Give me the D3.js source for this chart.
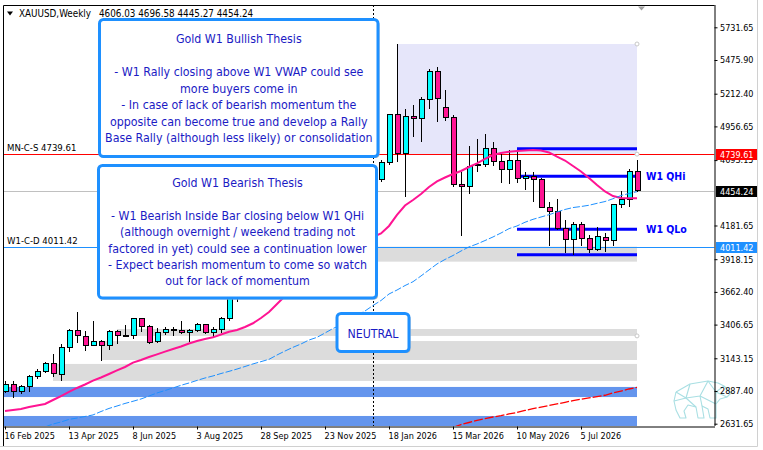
<!DOCTYPE html>
<html lang="en">
<head>
<meta charset="UTF-8">
<title>XAUUSD,Weekly</title>
<style>
    body {
        margin: 0;
        padding: 0;
        background-color: #fff;
    }
    svg {
        display: block;
        font-family: "DejaVu Sans Condensed", "DejaVu Sans", sans-serif;
    }
</style>
</head>
<body>
<svg id="chart" width="763" height="450"></svg>

<script src="https://d3js.org/d3.v7.min.js"></script>
<script>
    // weekly bars, index 0 = 16 Feb 2025
    const open  = [2887, 2942, 2880, 2919, 2997, 3036, 3099, 3020, 3231, 3357,
                   3310, 3247, 3278, 3247, 3349, 3318, 3325, 3458, 3388, 3271,
                   3341, 3372, 3357, 3341, 3357, 3404, 3341, 3372, 3458, 3630,
                   3650, 3685, 3760, 3887, 4018, 4252, 4113, 4002, 4000, 4085,
                   4065, 4218, 4198, 4300, 4340, 4532, 4330, 4543, 4676, 5046,
                   4746, 5036, 5020, 5169, 5388, 5106, 5028, 4504, 4488, 4652,
                   4660, 4785, 4681, 4621, 4688, 4551, 4563, 4538, 4321, 4295,
                   4160, 4074, 4191, 4082, 3996, 4089, 4063, 4347, 4387, 4606.03];
    const high  = [2966, 2966, 2934, 3013, 3059, 3114, 3177, 3255, 3372, 3505,
                   3357, 3435, 3286, 3364, 3364, 3404, 3462, 3462, 3404, 3380,
                   3388, 3388, 3435, 3372, 3419, 3411, 3388, 3466, 3645, 3675,
                   3707, 3791, 3897, 4059, 4380, 4381, 4150, 4030, 4245, 4132,
                   4220, 4264, 4353, 4375, 4550, 4550, 4505, 4694, 5050, 5601,
                   5093, 5124, 5189, 5403, 5424, 5241, 5046, 4602, 4803, 4858,
                   4897, 4832, 4739, 4772, 4772, 4598, 4598, 4556, 4363, 4387,
                   4225, 4207, 4207, 4107, 4168, 4121, 4350, 4451, 4624, 4696.58];
    const low   = [2872, 2833, 2864, 2880, 2981, 3028, 2997, 2966, 3192, 3263,
                   3200, 3245, 3122, 3208, 3255, 3310, 3294, 3349, 3255, 3263,
                   3325, 3318, 3333, 3271, 3349, 3333, 3310, 3341, 3435, 3583,
                   3627, 3630, 3750, 3882, 3945, 4004, 3886, 3930, 3996, 4022,
                   4040, 4170, 4165, 4270, 4335, 4275, 4310, 4524, 4655, 4681,
                   4405, 4876, 4837, 5093, 4993, 5001, 4480, 4102, 4426, 4602,
                   4642, 4647, 4512, 4504, 4512, 4459, 4368, 4316, 4021, 4146,
                   3964, 3951, 4021, 3964, 3985, 3973, 4021, 4316, 4324, 4445.27];
    const close = [2942, 2880, 2919, 2997, 3036, 3099, 3028, 3231, 3357, 3318,
                   3247, 3278, 3247, 3349, 3318, 3321, 3458, 3388, 3263, 3341,
                   3372, 3357, 3341, 3357, 3404, 3341, 3372, 3458, 3630, 3650,
                   3685, 3760, 3887, 4018, 4252, 4113, 4002, 4000, 4085, 4065,
                   4218, 4198, 4300, 4340, 4532, 4330, 4543, 4676, 5046, 4746,
                   5036, 5020, 5169, 5388, 5176, 5028, 4504, 4488, 4642, 4660,
                   4785, 4681, 4621, 4688, 4551, 4563, 4538, 4321, 4295, 4160,
                   4074, 4191, 4082, 3996, 4094, 4063, 4347, 4387, 4606.03, 4454.24];

    // pink moving average
    const maPink = [2731, 2739, 2747, 2762, 2774, 2786, 2817, 2848, 2880, 2911,
                    2938, 2968, 2993, 3020, 3048, 3075, 3109, 3130, 3153, 3174,
                    3195, 3216, 3235, 3259, 3278, 3294, 3307, 3329, 3350, 3364,
                    3388, 3417, 3458, 3505, 3568, 3630, 3685, 3740, 3787, 3834,
                    3881, 3920, 3959, 3998, 4037, 4068, 4092, 4119, 4178, 4264,
                    4338, 4381, 4428, 4483, 4526, 4557, 4584, 4608, 4639, 4668,
                    4702, 4733, 4749, 4758, 4764, 4768, 4772, 4768, 4753, 4720,
                    4690, 4647, 4604, 4553, 4498, 4448, 4412, 4397, 4394, 4394];

    // blue dashed VWAP (from bar 5) and red dashed VWAP (from bar 56)
    const vwapBlueStart = 5;
    const vwapBlue = [2606, 2629, 2645, 2665, 2676, 2688, 2700, 2727, 2751, 2770,
                      2790, 2807, 2825, 2848, 2872, 2891, 2911, 2932, 2950, 2970,
                      2989, 3005, 3024, 3041, 3059, 3079, 3099, 3117, 3135, 3169,
                      3200, 3229, 3255, 3286, 3307, 3341, 3376, 3404, 3443, 3478,
                      3513, 3556, 3595, 3646, 3677, 3712, 3742, 3787, 3834, 3881,
                      3916, 3947, 3982, 4014, 4037, 4064, 4092, 4123, 4157, 4178,
                      4207, 4230, 4248, 4266, 4287, 4307, 4322, 4330, 4340, 4355,
                      4369, 4391, 4416, 4432, 4446];
    const vwapRedStart = 56;
    const vwapRed = [2602, 2625, 2641, 2657, 2672, 2684, 2694, 2708, 2719, 2735,
                     2749, 2762, 2774, 2786, 2799, 2812, 2823, 2833, 2844, 2854,
                     2872, 2887, 2903, 2916];

    // time and price scale labels (the 4437.40 label sits under the bid tag)
    const dateTicks = [0, 8, 16, 24, 32, 40, 48, 56, 64, 72];
    const dateLabels = ["16 Feb 2025", "13 Apr 2025", "8 Jun 2025", "3 Aug 2025", "28 Sep 2025",
                        "23 Nov 2025", "18 Jan 2026", "15 Mar 2026", "10 May 2026", "5 Jul 2026"];
    const priceTicks = [5731.65, 5475.90, 5212.40, 4956.65, 4693.15, 4181.65,
                        3918.15, 3662.40, 3406.65, 3143.15, 2887.40, 2631.65];

    // rectangles: start bar, top, bottom (all end on the last bar)
    const zoneStart  = [49, 36, 14, 12, 6, -2, -2];
    const zoneTop    = [5601, 4016, 3372, 3278, 3099, 2919, 2692];
    const zoneBottom = [4739.61, 3899, 3318, 3130, 2966, 2840, 2500];
    const zoneKind   = ["range", "gray", "gray", "gray", "gray", "blue", "blue"];

    // horizontal levels over the whole chart
    const levelPrice = [4739.61, 4454.24, 4011.42];
    const levelName  = ["MN-C-S 4739.61", "", "W1-C-D 4011.42"];
    // quarter levels from bar 64
    const qStart = 64;
    const qPrice = [4781, 4566, 4152, 3952];
    const qName  = ["", "W1 QHi", "W1 QLo", ""];
    const separatorBar = 46;

    const bullLines = ["Gold W1 Bullish Thesis", "",
                       "- W1 Rally closing above W1 VWAP could see",
                       "more buyers come in",
                       "- In case of lack of bearish momentum the",
                       "opposite can become true and develop a Rally",
                       "Base Rally (although less likely) or consolidation"];
    const bearLines = ["Gold W1 Bearish Thesis", "",
                       "- W1 Bearish Inside Bar closing below W1 QHi",
                       "(although overnight / weekend trading not",
                       "factored in yet) could see a continuation lower",
                       "- Expect bearish momentum to come so watch",
                       "out for lack of momentum"];

    const last = close.length - 1;
    const pl = 3, pr = 714.5, pt = 5, pb = 426;

    const svg = d3.select("#chart");

    // bar index -> x, 8 px per bar, bar 0 at x=5
    const x = d3.scaleLinear()
        .domain([(pl - 5) / 8, (pr - 5) / 8])
        .range([pl, pr]);
    const y = d3.scaleLinear()
        .domain([2613.6, 5906.05])
        .range([pb, pt]);

    svg.append("rect").attr("width", 763).attr("height", 450).attr("fill", "#fff");

    svg.append("clipPath").attr("id", "plot")
        .append("rect")
        .attr("x", pl).attr("y", pt)
        .attr("width", pr - pl).attr("height", pb - pt);

    const g = svg.append("g").attr("clip-path", "url(#plot)");

    // zones
    const zoneFill = { range: "#e6e6fa", gray: "#dcdcdc", blue: "#6495ed" };
    g.selectAll(".zone")
        .data(zoneStart)
        .join("rect")
        .attr("class", "zone")
        .attr("x", (d) => x(d))
        .attr("width", (d) => x(last) - x(d))
        .attr("y", (d, i) => y(zoneTop[i]))
        .attr("height", (d, i) => y(zoneBottom[i]) - y(zoneTop[i]))
        .attr("fill", (d, i) => zoneFill[zoneKind[i]]);

    // horizontal levels
    const levelColor = ["#ff0000", "#c0c0c0", "#1e90ff"];
    g.selectAll(".level")
        .data(levelPrice)
        .join("line")
        .attr("x1", pl).attr("x2", pr)
        .attr("y1", (d) => Math.round(y(d)) + 0.5)
        .attr("y2", (d) => Math.round(y(d)) + 0.5)
        .attr("stroke", (d, i) => levelColor[i])
        .attr("stroke-width", 1);

    // quarter levels
    g.selectAll(".qlevel")
        .data(qPrice)
        .join("line")
        .attr("x1", x(qStart)).attr("x2", x(last))
        .attr("y1", (d) => y(d)).attr("y2", (d) => y(d))
        .attr("stroke", "#0000ff")
        .attr("stroke-width", 3);

    // period separator
    g.append("line")
        .attr("x1", x(separatorBar) + 0.5).attr("x2", x(separatorBar) + 0.5)
        .attr("y1", pt).attr("y2", pb)
        .attr("stroke", "#000")
        .attr("stroke-dasharray", "2,2");

    // candles
    const bars = d3.range(close.length);
    const candle = g.append("g").attr("shape-rendering", "crispEdges");
    candle.selectAll(".wick")
        .data(bars)
        .join("line")
        .attr("x1", (i) => x(i) + 0.5).attr("x2", (i) => x(i) + 0.5)
        .attr("y1", (i) => y(high[i])).attr("y2", (i) => y(low[i]))
        .attr("stroke", "#000");
    candle.selectAll(".body")
        .data(bars)
        .join("rect")
        .attr("x", (i) => x(i) - 2)
        .attr("width", 5)
        .attr("y", (i) => y(Math.max(open[i], close[i])))
        .attr("height", (i) => Math.max(1, Math.abs(y(open[i]) - y(close[i]))))
        .attr("fill", (i) => close[i] >= open[i] ? "#00ffff" : "#ff1493")
        .attr("stroke", "#000");

    // averages
    const line = d3.line().x((d) => x(d[0])).y((d) => y(d[1]));
    g.append("path")
        .attr("d", line(maPink.map((v, i) => [i, v])))
        .attr("fill", "none")
        .attr("stroke", "#ff1493")
        .attr("stroke-width", 2);
    g.append("path")
        .attr("d", line(vwapBlue.map((v, i) => [i + vwapBlueStart, v])))
        .attr("fill", "none")
        .attr("stroke", "#1e90ff")
        .attr("stroke-width", 1)
        .attr("stroke-dasharray", "7,2");
    g.append("path")
        .attr("d", line(vwapRed.map((v, i) => [i + vwapRedStart, v])))
        .attr("fill", "none")
        .attr("stroke", "#ff0000")
        .attr("stroke-width", 1.3)
        .attr("stroke-dasharray", "9,2");

    // anchor points of the rectangles
    [[last, 5601], [last, 4739.61], [last, 3318]].forEach(function (p) {
        g.append("circle")
            .attr("cx", x(p[0])).attr("cy", y(p[1])).attr("r", 2)
            .attr("fill", "#fff").attr("stroke", "#c8c8c8");
    });

    // level captions
    levelPrice.forEach(function (p, i) {
        if (!levelName[i]) return;
        svg.append("text")
            .attr("x", 7).attr("y", y(p) - 3)
            .attr("font-size", 9.5)
            .attr("fill", "#000")
            .text(levelName[i]);
    });
    qPrice.forEach(function (p, i) {
        if (!qName[i]) return;
        svg.append("text")
            .attr("x", 646).attr("y", y(p) + 3.5)
            .attr("font-size", 10.5)
            .attr("font-weight", "bold")
            .attr("fill", "#0000ff")
            .text(qName[i]);
    });

    // bear watermark
    const bear = svg.append("g")
        .attr("fill", "none").attr("stroke", "#a9dfe3").attr("stroke-width", 1.1)
        .attr("stroke-linejoin", "round");
    const bearOutline = [[676,392],[690,384],[708,381],[718,383],[724,386],[731,393],[727,397],[720,399],
                         [716,404],[716,418],[710,418],[708,409],[702,406],[704,418],[698,418],[696,407],
                         [688,405],[684,411],[686,418],[680,418],[676,410],[674,401],[676,392]];
    const bearInner = [[[690,384],[686,398],[676,392]], [[686,398],[674,401]], [[686,398],[696,407]],
                       [[708,381],[700,396],[686,398]], [[700,396],[702,406]], [[700,396],[716,404]],
                       [[708,381],[716,392],[716,404]], [[716,392],[724,386]], [[716,392],[727,397]]];
    bear.append("path").attr("d", d3.line()(bearOutline));
    bearInner.forEach((p) => bear.append("path").attr("d", d3.line()(p)));

    // text boxes
    function noteBox(bx, by, bw, bh) {
        svg.append("rect")
            .attr("x", bx + 1.5).attr("y", by + 1.5).attr("width", bw).attr("height", bh)
            .attr("rx", 4).attr("fill", "#b8b8b8");
        svg.append("rect")
            .attr("x", bx).attr("y", by).attr("width", bw).attr("height", bh)
            .attr("rx", 4).attr("fill", "#fff")
            .attr("stroke", "#1e90ff").attr("stroke-width", 3);
    }
    function noteText(lines, cx, y0, step) {
        svg.append("g")
            .attr("text-anchor", "middle")
            .attr("font-size", 12.3)
            .attr("fill", "#1b1bc4")
            .selectAll("text")
            .data(lines)
            .join("text")
            .attr("x", cx)
            .attr("y", (d, i) => y0 + i * step)
            .text((d) => d);
    }
    noteBox(99.5, 19.5, 278.5, 137);
    noteText(bullLines, 238.8, 43.3, 16.5);
    noteBox(98.5, 165.5, 278, 132.5);
    noteText(bearLines, 237.5, 187, 16.4);
    noteBox(337, 313.5, 72, 38);
    noteText(["NEUTRAL"], 373, 337.5, 0);

    // axes
    const xAxis = d3.axisBottom(x)
        .tickValues(dateTicks)
        .tickFormat((d, i) => dateLabels[i])
        .tickSize(3).tickSizeOuter(0).tickPadding(3);
    const gx = svg.append("g")
        .attr("transform", "translate(0," + (pb + 0.5) + ")")
        .call(xAxis);
    gx.selectAll(".tick text").attr("text-anchor", "start").attr("dx", "-1");

    const yAxis = d3.axisRight(y)
        .tickValues(priceTicks)
        .tickFormat((d) => d.toFixed(2))
        .tickSize(3).tickSizeOuter(0).tickPadding(2.5);
    const gy = svg.append("g")
        .attr("transform", "translate(" + pr + ",0)")
        .call(yAxis);

    [gx, gy].forEach(function (a) {
        a.attr("font-family", null).attr("font-size", 9);
        a.selectAll("text").attr("fill", "#000");
        a.selectAll("line,path").attr("stroke", "#000");
    });
    gy.select(".domain").attr("d", "M0.5," + pt + "V" + pb);

    // frame
    svg.append("path")
        .attr("d", "M" + (pl + 0.5) + ",446V" + (pt + 0.5) + "H" + pr)
        .attr("fill", "none").attr("stroke", "#000");
    svg.append("path")
        .attr("d", "M0,446.5H757.5V0")
        .attr("fill", "none").attr("stroke", "#d0d0d0");
    svg.append("path")
        .attr("d", "M638,6.5h7l-3.5,4z").attr("fill", "#a0a0a0");

    // header
    svg.append("path").attr("d", "M7,11.5h6l-3,4z").attr("fill", "#000");
    svg.append("text")
        .attr("x", 19).attr("y", 16.5)
        .attr("font-size", 9.8)
        .text("XAUUSD,Weekly");
    svg.append("text")
        .attr("x", 99).attr("y", 16.5)
        .attr("font-size", 9.8)
        .text([open[last], high[last], low[last], close[last]].map((v) => v.toFixed(2)).join(" "));

    // price tags on the scale
    const tagFill = ["#ff0000", "#000000", "#1e90ff"];
    levelPrice.forEach(function (p, i) {
        const ty = Math.round(y(p));
        svg.append("rect")
            .attr("x", 716).attr("y", ty - 5).attr("width", 41).attr("height", 11)
            .attr("fill", tagFill[i]);
        svg.append("text")
            .attr("x", 720).attr("y", ty + 3.5)
            .attr("font-size", 9)
            .attr("fill", "#fff")
            .text(p.toFixed(2));
    });
</script>
</body>
</html>
